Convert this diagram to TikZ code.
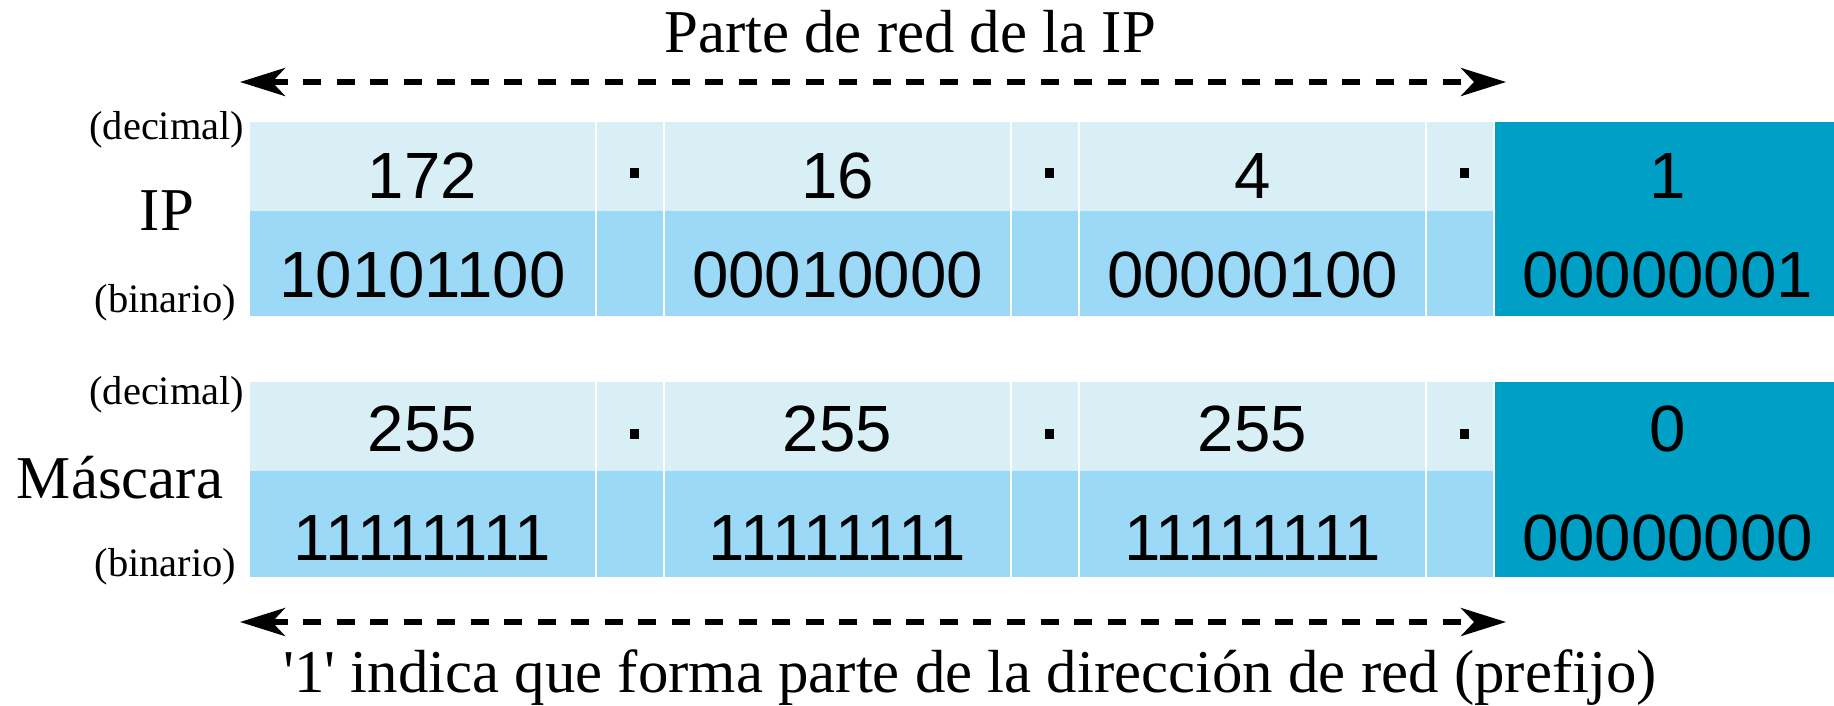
\documentclass[tikz,border=0pt]{standalone}
\usepackage{fontspec}
\setmainfont{Liberation Serif}
\newfontfamily\numfont{Liberation Sans}
\usepackage{xcolor}
\usetikzlibrary{arrows.meta,positioning}
\definecolor{celllight}{HTML}{D9EFF6}
\definecolor{cellmid}{HTML}{9CD9F6}
\definecolor{celldark}{HTML}{00A0C6}

\begin{document}
\begin{tikzpicture}[x=0.01cm,y=-0.01cm,
  num/.style={font=\numfont\fontsize{18.6}{20}\selectfont,anchor=base,inner sep=0pt},
  side/.style={font=\fontsize{11.5}{13}\selectfont,inner sep=0pt,anchor=east},
  big/.style={font=\fontsize{17.3}{20}\selectfont,inner sep=0pt,anchor=base},
  dasharrow/.style={<->,>={Stealth[length=0.45cm,width=0.28cm,inset=0.13cm]},
                    line width=1.6pt,dash pattern=on 0.18cm off 0.155cm}]
  \useasboundingbox (0,0) rectangle (1834,705);

  % IP
  \foreach \i/\x/\d/\b in {1/250/172/10101100,2/665/16/00010000,3/1080/4/00000100}{
    \fill[celllight] (\x,122) rectangle ++(345,89);
    \fill[cellmid] (\x,211) rectangle ++(345,105);
    \fill[celllight] (\x+347,122) rectangle ++(66,89);
    \fill[cellmid] (\x+347,211) rectangle ++(66,105);
    \fill (\x+379.5,168) rectangle ++(9,10);
    \node[num] (ipdec\i) at (\x+172.5,198) {\d};
    \node[num] (ipbin\i) at (\x+172.5,297) {\b};
  }
  \fill[celldark] (1495,122) rectangle ++(345,194);
  \node[num] (ipdec4) at (1667.5,198) {1};
  \node[num] (ipbin4) at (1667.5,297) {00000001};

  % Mascara
  \foreach \i/\x/\d/\b in {1/250/255/11111111,2/665/255/11111111,3/1080/255/11111111}{
    \fill[celllight] (\x,382) rectangle ++(345,89);
    \fill[cellmid] (\x,471) rectangle ++(345,106);
    \fill[celllight] (\x+347,382) rectangle ++(66,89);
    \fill[cellmid] (\x+347,471) rectangle ++(66,106);
    \fill (\x+379.5,429) rectangle ++(9,10);
    \node[num] (mskdec\i) at (\x+172.5,451) {\d};
    \node[num] (mskbin\i) at (\x+172.5,560) {\b};
  }
  \fill[celldark] (1495,382) rectangle ++(345,195);
  \node[num] (mskdec4) at (1667.5,451) {0};
  \node[num] (mskbin4) at (1667.5,560) {00000000};

  \node[side] (ipdeclbl) at (245,130) {(decimal)};
  \node[side] (ipbinlbl) at (237,303) {(binario)};
  \node[big] (iplbl) at (167,230) {IP};
  \node[side] (mskdeclbl) at (245,395) {(decimal)};
  \node[side] (mskbinlbl) at (237,567) {(binario)};
  \node[big] (msklbl) at (120,498) {Máscara};

  \node[big] (netpart) at (910,52) {Parte de red de la IP};
  \node[big] (prefix) at (970,692)
       {\textquotesingle1\textquotesingle{} indica que forma parte de la dirección de red (prefijo)};

  \coordinate (topL) at (240,82);
  \coordinate (topR) at (1506,82);
  \coordinate (botL) at (240,622);
  \coordinate (botR) at (1506,622);
  \draw[dasharrow] (topL) -- (topR);
  \draw[dasharrow] (botL) -- (botR);
\end{tikzpicture}
\end{document}
